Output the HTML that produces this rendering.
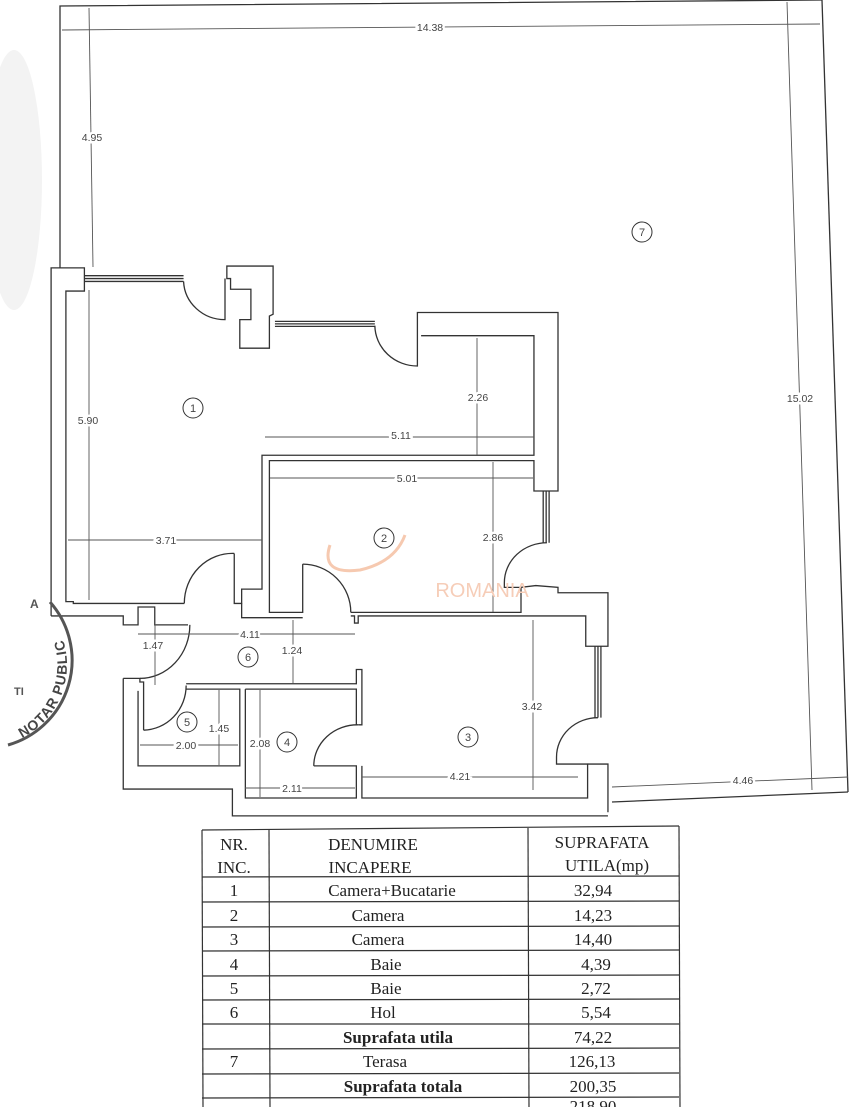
<!DOCTYPE html>
<html><head><meta charset="utf-8"><style>
html,body{margin:0;padding:0;background:#fff;}
svg{display:block}
.w{fill:none;stroke:#333;stroke-width:1.3;vector-effect:non-scaling-stroke}
.d{fill:none;stroke:#555;stroke-width:0.9}
.t{font-family:"Liberation Sans",sans-serif;font-size:10.5px;fill:#444;text-anchor:middle}
.c{fill:#fff;stroke:#333;stroke-width:1}
.tb{font-family:"Liberation Serif",serif;font-size:17px;fill:#222;text-anchor:middle}
</style></head><body>
<svg width="866" height="1107" viewBox="0 0 866 1107" xmlns="http://www.w3.org/2000/svg">
<ellipse cx="14" cy="180" rx="28" ry="130" fill="#f3f3f3"/>
<polyline class="w" points="60,268 60,6 822,0"/>
<line class="w" x1="822" y1="0" x2="848" y2="792"/>
<line class="w" x1="612" y1="802" x2="848" y2="792"/>
<line class="d" x1="62" y1="30" x2="820" y2="24"/>
<line class="d" x1="787" y1="2" x2="812" y2="790"/>
<line class="d" x1="89" y1="8" x2="93" y2="267"/>
<line class="d" x1="612" y1="787" x2="848" y2="777"/>
<g transform="translate(40,250) scale(0.37,0.357)">
<path class="w" d="M30,1025 L30,50 L120,50 L120,115 L70,115 L70,985 L90,985 L90,990 L390,990"/>
<path class="w" d="M120,72 L388,72 M120,80 L388,80 M120,88 L388,88"/>
<path class="w" d="M388,88 A112,112 0 0 0 500,195 L500,80"/>
<path class="w" d="M505,80 L505,45 L630,45 L630,180 L620,185 L620,275 L540,275 L540,195 L570,195 L570,110 L515,110 L515,80 Z"/>
<path class="w" d="M635,200 L905,200 M635,207 L905,207 M635,214 L905,214"/>
<path class="w" d="M905,212 A115,115 0 0 0 1020,325 L1020,175 L1400,175 L1400,675 L1335,675 L1335,590 L620,590 L620,1015 L710,1015 L710,880"/>
<path class="w" d="M1030,240 L1335,240 L1335,575 L600,575 L600,950 L545,950 L545,990 L525,990 L525,850"/>
<path class="w" d="M525,850 A130,140 0 0 0 390,990"/>
<path class="w" d="M545,990 L545,1030 L710,1030"/>
<path class="w" d="M710,880 A130,135 0 0 1 840,1015"/>
<path class="w" d="M1360,675 L1360,820 M1368,675 L1368,820 M1376,675 L1376,820"/>
<path class="w" d="M1370,820 A115,112 0 0 0 1255,932 L1255,945 L1300,945"/>
<path class="w" d="M840,1015 L1300,1015 L1300,945 L1340,940 L1400,945 L1400,960 L1535,960 L1535,1110 L1475,1110 L1475,1025 L860,1025 L860,1045 L850,1045 L850,1025 L840,1025"/>
<path class="w" d="M30,1025 L225,1025 L225,1050 L265,1050 L265,1000 L310,1000 L310,1050 L400,1050"/>
<path class="w" d="M405,1050 A135,150 0 0 1 270,1200"/>
<path class="w" d="M1500,1110 L1500,1310 M1508,1110 L1508,1310 M1516,1110 L1516,1310"/>
<path class="w" d="M1508,1310 A112,110 0 0 0 1396,1420 L1396,1440 L1480,1440 L1480,1535 L870,1535 L870,1445"/>
<path class="w" d="M1480,1440 L1535,1440 L1535,1575"/>
<path class="w" d="M225,1200 L270,1200 L270,1210 L280,1210 L280,1345"/>
<path class="w" d="M280,1345 A118,125 0 0 0 395,1220"/>
<path class="w" d="M395,1215 L855,1215 L855,1175 L870,1175 L870,1330 L860,1330"/>
<path class="w" d="M395,1230 L540,1230 L540,1445 L265,1445 L265,1235"/>
<path class="w" d="M555,1230 L855,1230 L855,1330"/>
<path class="w" d="M555,1230 L555,1535 L855,1535 L855,1445 L740,1445"/>
<path class="w" d="M860,1330 A118,115 0 0 0 740,1445"/>
<path class="w" d="M225,1200 L225,1510 L520,1510 L520,1585 L1535,1585"/>
</g>
<g class="d">
<line x1="477" y1="338" x2="477" y2="455"/>
<line x1="265" y1="437" x2="534" y2="437"/>
<line x1="89" y1="290" x2="89" y2="600"/>
<line x1="270" y1="478" x2="533" y2="478"/>
<line x1="493" y1="462" x2="493" y2="612"/>
<line x1="68" y1="540" x2="262" y2="540"/>
<line x1="138" y1="634" x2="355" y2="634"/>
<line x1="155" y1="608" x2="155" y2="685"/>
<line x1="293" y1="620" x2="293" y2="683"/>
<line x1="219" y1="690" x2="219" y2="765"/>
<line x1="140" y1="745" x2="238" y2="745"/>
<line x1="260" y1="690" x2="260" y2="797"/>
<line x1="245" y1="788" x2="355" y2="788"/>
<line x1="362" y1="777" x2="578" y2="777"/>
<line x1="533" y1="620" x2="533" y2="790"/>
</g>
<g class="t" style="paint-order:stroke;stroke:#fff;stroke-width:5">
<text x="430" y="31">14.38</text>
<text x="92" y="141">4.95</text>
<text x="800" y="402">15.02</text>
<text x="478" y="401">2.26</text>
<text x="401" y="439">5.11</text>
<text x="88" y="424">5.90</text>
<text x="407" y="482">5.01</text>
<text x="493" y="541">2.86</text>
<text x="166" y="544">3.71</text>
<text x="250" y="638">4.11</text>
<text x="153" y="649">1.47</text>
<text x="292" y="654">1.24</text>
<text x="219" y="732">1.45</text>
<text x="186" y="749">2.00</text>
<text x="260" y="747">2.08</text>
<text x="292" y="792">2.11</text>
<text x="460" y="780">4.21</text>
<text x="532" y="710">3.42</text>
<text x="743" y="784">4.46</text>
</g>
<path d="M330,545 Q320,575 360,570 Q395,562 405,535" fill="none" stroke="#f6c9b0" stroke-width="3"/>
<text x="482" y="597" font-family="Liberation Sans,sans-serif" font-size="20" fill="#f6cdb8" text-anchor="middle">ROMANIA</text>
<g class="t" style="font-size:11px">
<circle class="c" cx="642" cy="232" r="10"/><text x="642" y="236">7</text>
<circle class="c" cx="193" cy="408" r="10"/><text x="193" y="412">1</text>
<circle class="c" cx="384" cy="538" r="10"/><text x="384" y="542">2</text>
<circle class="c" cx="248" cy="657" r="10"/><text x="248" y="661">6</text>
<circle class="c" cx="187" cy="722" r="10"/><text x="187" y="726">5</text>
<circle class="c" cx="287" cy="742" r="10"/><text x="287" y="746">4</text>
<circle class="c" cx="468" cy="737" r="10"/><text x="468" y="741">3</text>
</g>
<path d="M50,602 A88,88 0 0 1 8,745" fill="none" stroke="#555" stroke-width="3"/>
<path id="sp" d="M22,738 A82,82 0 0 0 40,604" fill="none"/>
<text font-family="Liberation Sans,sans-serif" font-weight="bold" font-size="14" letter-spacing="1" fill="#444"><textPath href="#sp">NOTAR PUBLIC</textPath></text>
<text x="30" y="608" font-family="Liberation Sans,sans-serif" font-size="12" font-weight="bold" fill="#555">A</text>
<text x="14" y="695" font-family="Liberation Sans,sans-serif" font-size="11" font-weight="bold" fill="#555">TI</text>
<g stroke="#333" stroke-width="1.2">
<line x1="202" y1="830" x2="679" y2="826"/>
<line x1="202" y1="877" x2="679" y2="876"/>
<line x1="202" y1="902" x2="679" y2="901"/>
<line x1="202" y1="927" x2="679" y2="926"/>
<line x1="202" y1="951" x2="679" y2="950"/>
<line x1="202" y1="976" x2="679" y2="975"/>
<line x1="202" y1="1000" x2="679" y2="999"/>
<line x1="202" y1="1024" x2="679" y2="1024"/>
<line x1="202" y1="1049" x2="679" y2="1048"/>
<line x1="202" y1="1074" x2="679" y2="1073"/>
<line x1="202" y1="1098" x2="679" y2="1097"/>
<line x1="202" y1="830" x2="203" y2="1107"/>
<line x1="269" y1="830" x2="270" y2="1107"/>
<line x1="528" y1="828" x2="529" y2="1107"/>
<line x1="679" y1="826" x2="680" y2="1107"/>
</g>
<g class="tb">
<text x="234" y="850">NR.</text><text x="234" y="873">INC.</text>
<text x="373" y="850">DENUMIRE</text><text x="370" y="873">INCAPERE</text>
<text x="602" y="848">SUPRAFATA</text><text x="607" y="871">UTILA(mp)</text>
<text x="234" y="896">1</text><text x="392" y="896">Camera+Bucatarie</text><text x="593" y="896">32,94</text>
<text x="234" y="921">2</text><text x="378" y="921">Camera</text><text x="593" y="921">14,23</text>
<text x="234" y="945">3</text><text x="378" y="945">Camera</text><text x="593" y="945">14,40</text>
<text x="234" y="970">4</text><text x="386" y="970">Baie</text><text x="596" y="970">4,39</text>
<text x="234" y="994">5</text><text x="386" y="994">Baie</text><text x="596" y="994">2,72</text>
<text x="234" y="1018">6</text><text x="383" y="1018">Hol</text><text x="596" y="1018">5,54</text>
<text x="398" y="1043" font-weight="bold">Suprafata utila</text><text x="593" y="1043">74,22</text>
<text x="234" y="1067">7</text><text x="385" y="1067">Terasa</text><text x="592" y="1067">126,13</text>
<text x="403" y="1092" font-weight="bold">Suprafata totala</text><text x="593" y="1092">200,35</text>
<text x="593" y="1112">218,90</text>
</g>
</svg>
</body></html>
